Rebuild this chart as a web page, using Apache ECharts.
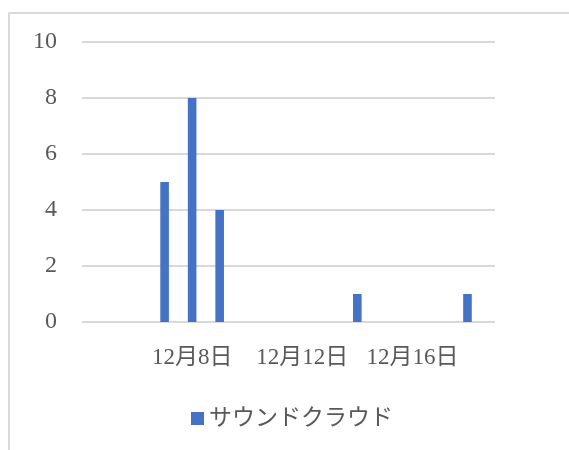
<!DOCTYPE html>
<html>
<head>
<meta charset="utf-8">
<script src="https://cdn.jsdelivr.net/npm/echarts@6/dist/echarts.min.js"></script>
<style>
  html, body { margin: 0; padding: 0; background: #fff; }
  #chart { width: 569px; height: 450px; }
</style>
</head>
<body>
<div id="chart"></div>
<script>
// Days shown on the date axis (December 4 – 19)
const axisDays = [4, 5, 6, 7, 8, 9, 10, 11, 12, 13, 14, 15, 16, 17, 18, 19];
// Days that have a count, and the counts themselves
const dataDays = [7, 8, 9, 14, 18];
const counts = [5, 8, 4, 1, 1];
// Days whose label is printed under the axis
const labelDays = [8, 12, 16];
const seriesName = 'サウンドクラウド';

const categories = axisDays.map(d => '12月' + d + '日');
const seriesData = axisDays.map(d => {
  const i = dataDays.indexOf(d);
  return i >= 0 ? counts[i] : null;
});

const textColor = '#595959';
const fontFamily = '"Liberation Serif", "Noto Sans CJK JP", serif';

const chart = echarts.init(document.getElementById('chart'), null, { renderer: 'canvas' });
chart.setOption({
  animation: false,
  backgroundColor: '#ffffff',
  grid: { left: 82, right: 74, top: 42, bottom: 128, containLabel: false },
  graphic: [{
    type: 'rect',
    shape: { x: 9, y: 13, width: 620, height: 500 },
    style: { fill: 'none', stroke: '#d9d9d9', lineWidth: 2 },
    silent: true
  }],
  legend: {
    data: [seriesName],
    left: 186,
    top: 402,
    itemWidth: 13,
    itemHeight: 13,
    itemGap: 10,
    icon: 'rect',
    textStyle: { color: textColor, fontSize: 23, fontFamily: fontFamily }
  },
  xAxis: {
    type: 'category',
    data: categories,
    boundaryGap: false,
    axisLine: { show: false },
    axisTick: { show: false },
    axisLabel: {
      interval: (i) => labelDays.indexOf(axisDays[i]) >= 0,
      color: textColor,
      fontSize: 23,
      fontFamily: fontFamily,
      margin: 24
    },
    splitLine: { show: false }
  },
  yAxis: {
    type: 'value',
    min: 0,
    max: 10,
    interval: 2,
    axisLine: { show: false },
    axisTick: { show: false },
    axisLabel: {
      color: textColor,
      fontSize: 24,
      fontFamily: fontFamily,
      margin: 25
    },
    splitLine: { lineStyle: { color: '#d9d9d9', width: 2 } }
  },
  series: [{
    name: seriesName,
    type: 'bar',
    data: seriesData,
    barWidth: 8.6,
    itemStyle: { color: '#4472c4' }
  }]
});
</script>
</body>
</html>
